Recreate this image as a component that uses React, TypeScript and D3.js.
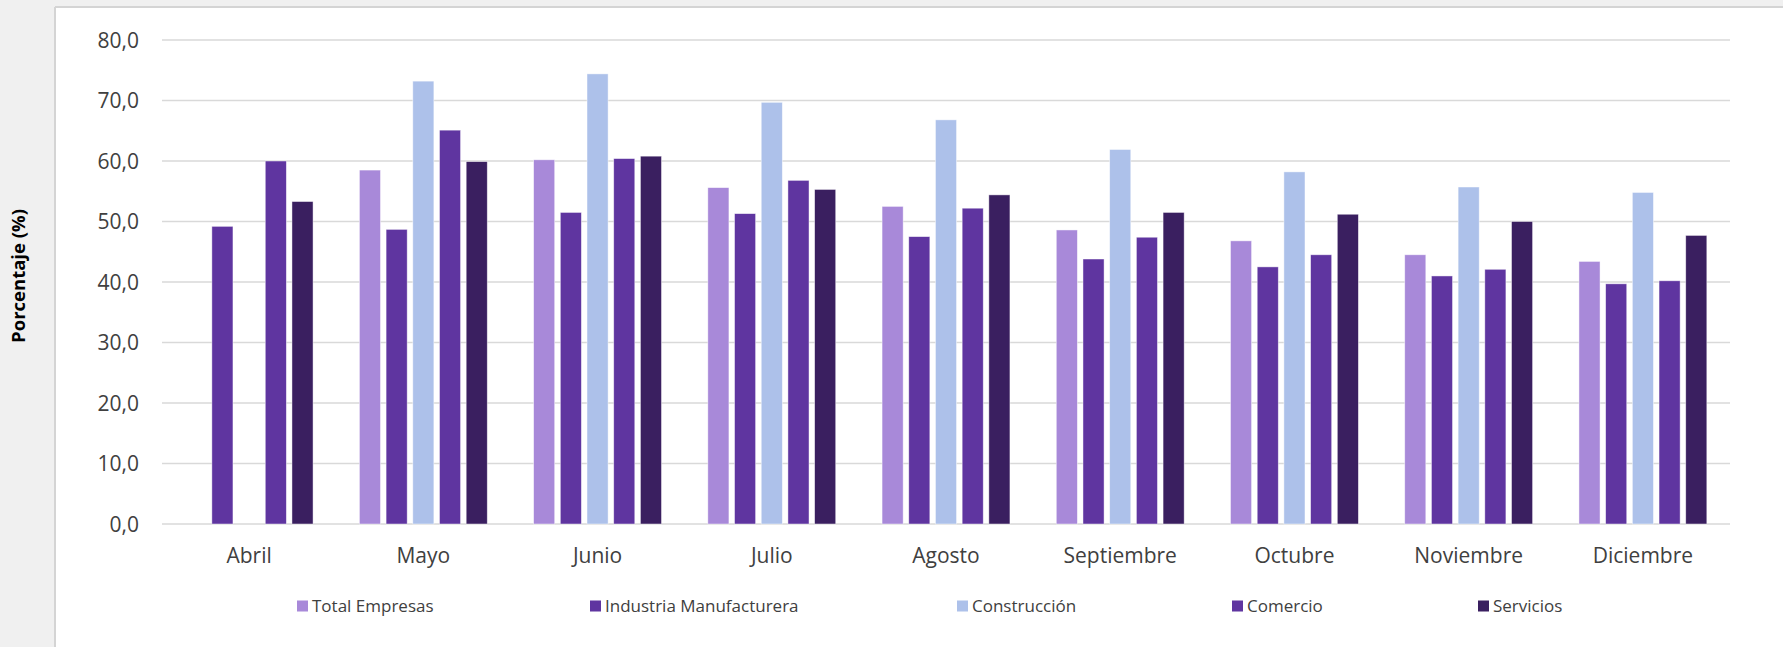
import React from "react";
import * as d3 from "d3";

const months = ["Abril", "Mayo", "Junio", "Julio", "Agosto", "Septiembre", "Octubre", "Noviembre", "Diciembre"];
const seriesNames = ["Total Empresas", "Industria Manufacturera", "Construcción", "Comercio", "Servicios"];
const totalEmpresas = [null, 58.5, 60.2, 55.6, 52.5, 48.6, 46.8, 44.5, 43.4];
const industriaManufacturera = [49.2, 48.7, 51.5, 51.3, 47.5, 43.8, 42.5, 41.0, 39.7];
const construccion = [null, 73.2, 74.4, 69.7, 66.8, 61.9, 58.2, 55.7, 54.8];
const comercio = [60.0, 65.1, 60.4, 56.8, 52.2, 47.4, 44.5, 42.1, 40.2];
const servicios = [53.3, 59.9, 60.8, 55.3, 54.4, 51.5, 51.2, 50.0, 47.7];
const yTicks = [0, 10, 20, 30, 40, 50, 60, 70, 80];

const seriesValues = [totalEmpresas, industriaManufacturera, construccion, comercio, servicios];
const colors = ["#a889d9", "#5f35a0", "#adc1ea", "#5f35a0", "#3a1f60"];
const legendX = [297, 590, 957, 1232, 1478];

const W = 1783;
const H = 647;

export default function App() {
  const x0 = d3.scaleBand<string>().domain(months).range([162, 1730]).paddingInner(0.266).paddingOuter(0.133);
  const x1 = d3.scaleBand<string>().domain(seriesNames).range([0, x0.bandwidth()]).paddingInner(0.21).paddingOuter(0);
  const y = d3.scaleLinear().domain([0, 80]).range([524, 40]);
  const fmt = (v: number) => v.toFixed(1).replace(".", ",");
  const font = "'Open Sans', 'Segoe UI', sans-serif";

  return (
    <svg width={W} height={H} style={{ position: "absolute", left: 0, top: 0, display: "block" }} fontFamily={font}>
      <rect x={0} y={0} width={W} height={H} fill="#f0f0f0" />
      <rect x={55} y={7} width={W - 55} height={H - 7} fill="#ffffff" />
      <line x1={55} y1={7} x2={W} y2={7} stroke="#d4d4d4" strokeWidth={2} />
      <line x1={55} y1={7} x2={55} y2={H} stroke="#d4d4d4" strokeWidth={2} />

      {yTicks.map((t) => (
        <g key={t}>
          <line x1={162} x2={1730} y1={y(t)} y2={y(t)} stroke="#d9d9d9" strokeWidth={1.5} />
          <text x={139} y={y(t) + 7.5} textAnchor="end" fontSize={21} fill="#404040">
            {fmt(t)}
          </text>
        </g>
      ))}

      {months.map((m, i) => (
        <g key={m} transform={`translate(${x0(m)},0)`}>
          {seriesNames.map((s, k) => {
            const v = seriesValues[k][i];
            if (v === null || v === undefined) return null;
            return (
              <rect
                key={s}
                x={x1(s)}
                y={y(v)}
                width={x1.bandwidth()}
                height={y(0) - y(v)}
                fill={colors[k]}
                stroke="#ffffff"
                strokeOpacity={0.6}
                strokeWidth={0.75}
              />
            );
          })}
        </g>
      ))}

      {months.map((m) => (
        <text key={m} x={(x0(m) as number) + x0.bandwidth() / 2} y={563} textAnchor="middle" fontSize={21} fill="#404040">
          {m}
        </text>
      ))}

      <text transform="translate(25,276) rotate(-90)" textAnchor="middle" fontSize={18.5} fontWeight="bold" fill="#000000">
        Porcentaje (%)
      </text>

      {seriesNames.map((s, k) => (
        <g key={s} transform={`translate(${legendX[k]},0)`}>
          <rect x={0} y={600.5} width={11} height={11} fill={colors[k]} />
          <text x={15} y={612} fontSize={17} fill="#404040">
            {s}
          </text>
        </g>
      ))}
    </svg>
  );
}
